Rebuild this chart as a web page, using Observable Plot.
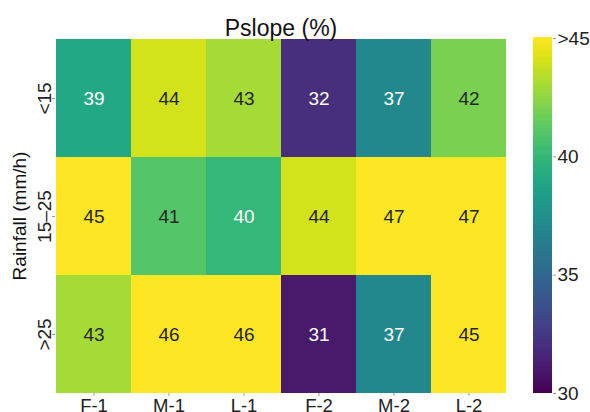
<!DOCTYPE html>
<html>
<head>
<meta charset="utf-8">
<script src="https://cdn.jsdelivr.net/npm/d3@7"></script>
<script src="https://cdn.jsdelivr.net/npm/@observablehq/plot@0.6"></script>
<style>
  html, body { margin: 0; padding: 0; background: #fff; }
  #chart { position: relative; width: 590px; height: 412px; font-family: "Liberation Sans", Arial, sans-serif; }
  #chart svg { position: absolute; top: 0; }
</style>
</head>
<body>
<div id="chart"></div>
<script>
// Pslope (%) by rainfall class and plot position
const phases = ["F-1", "M-1", "L-1", "F-2", "M-2", "L-2"];
const rainfall = ["<15", "15–25", ">25"];
const lowRain = [39, 44, 43, 32, 37, 42];
const midRain = [45, 41, 40, 44, 47, 47];
const highRain = [43, 46, 46, 31, 37, 45];
const colorTicks = [30, 35, 40, 45];

const rows = [lowRain, midRain, highRain];
const cells = rows.flatMap((vals, i) =>
  vals.map((v, j) => ({phase: phases[j], rain: rainfall[i], value: v}))
);

const W = 590, H = 412;
const padTop = 38, padBottom = 19;
const fontStyle = {fontFamily: "Liberation Sans, Arial, sans-serif", fontSize: "19px", color: "#222", background: "transparent"};

const main = Plot.plot({
  width: W,
  height: H,
  marginLeft: 55,
  marginRight: 84,
  marginTop: padTop,
  marginBottom: padBottom,
  style: fontStyle,
  x: {domain: phases, padding: 0, label: null},
  y: {domain: rainfall, padding: 0, label: null},
  color: {type: "linear", scheme: "viridis", domain: [30, 45], clamp: true},
  marks: [
    Plot.cell(cells, {x: "phase", y: "rain", fill: "value", inset: 0}),
    Plot.text(cells, {
      x: "phase", y: "rain", text: d => String(d.value),
      fill: d => d.value <= 40 ? "#ffffff" : "#262626",
      fontSize: 19
    }),
    Plot.axisX({tickSize: 3, tickPadding: 2, fontSize: 18.5, stroke: "#999"}),
    Plot.axisY({tickSize: 3, tickPadding: 2, tickRotate: -90, fontSize: 19, stroke: "#999"}),
    Plot.text(["Rainfall (mm/h)"], {
      frameAnchor: "left", textAnchor: "middle", dx: -36, rotate: -90, fontSize: 19, fill: "#111"
    }),
    Plot.text(["Pslope (%)"], {
      frameAnchor: "top", dy: -19, fontSize: 23, fill: "#111"
    })
  ]
});

// Colour bar drawn from the same viridis ramp
const steps = d3.range(30, 45, 0.05).map(v => ({y1: v, y2: v + 0.08, v}));
const bar = Plot.plot({
  width: 57,
  height: H,
  marginLeft: 0,
  marginRight: 38,
  marginTop: padTop,
  marginBottom: padBottom,
  style: fontStyle,
  x: {domain: [0, 1], axis: null},
  y: {domain: [30, 45], label: null, axis: null},
  color: {type: "linear", scheme: "viridis", domain: [30, 45]},
  marks: [
    Plot.rect(steps, {x1: 0, x2: 1, y1: "y1", y2: "y2", fill: "v", shapeRendering: "crispEdges"}),
    Plot.axisY({
      anchor: "right", ticks: colorTicks, tickSize: 3, tickPadding: 2, fontSize: 19,
      stroke: "#999", tickFormat: d => d === 45 ? ">45" : String(d)
    })
  ]
});

const root = document.getElementById("chart");
main.style.left = "0px";
bar.style.left = "533px";
root.append(main, bar);
</script>
</body>
</html>
